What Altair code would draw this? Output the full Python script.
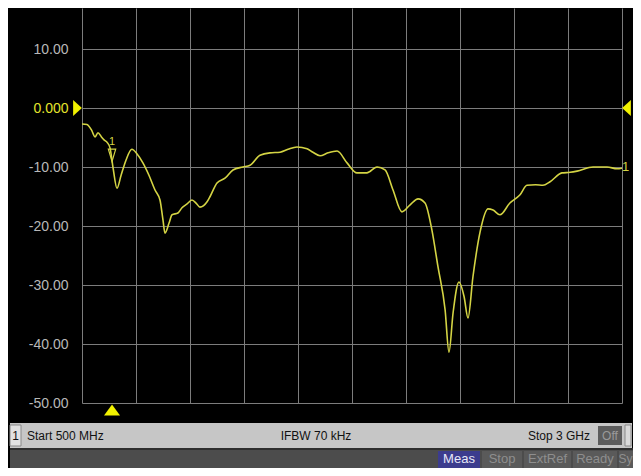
import altair as alt
import pandas as pd

# ---- data ----
freq_mhz = [500, 523, 545, 560, 574, 590, 602, 618, 630, 644, 662, 681, 704, 731, 755, 782,
            810, 838, 861, 875, 884, 903, 917, 944, 963, 985, 1009, 1030, 1046, 1079, 1093,
            1125, 1162, 1199, 1245, 1278, 1324, 1370, 1417, 1454, 1495, 1542, 1569, 1602,
            1639, 1681, 1727, 1773, 1819, 1866, 1903, 1940, 1981, 2019, 2056, 2088, 2120,
            2148, 2181, 2199, 2218, 2245, 2269, 2287, 2310, 2343, 2380, 2403, 2435, 2481,
            2528, 2560, 2600, 2634, 2667, 2722, 2760, 2792, 2866, 2931, 2977, 3000]
s11_db = [-2.7, -2.8, -3.8, -4.9, -4.2, -4.9, -5.4, -5.9, -6.8, -10.2, -13.6, -11.4, -8.8,
          -7.0, -7.8, -9.3, -11.4, -13.9, -15.6, -19.0, -21.2, -19.5, -18.1, -17.8, -16.9,
          -16.3, -15.6, -16.2, -16.8, -15.9, -15.0, -12.7, -11.9, -10.5, -10.0, -9.7, -8.0,
          -7.6, -7.5, -7.0, -6.6, -6.9, -7.5, -8.1, -7.6, -7.3, -9.3, -11.0, -11.0, -10.0,
          -10.5, -13.9, -17.6, -16.4, -15.4, -16.1, -20.7, -26.9, -34.2, -41.4, -34.7,
          -29.5, -32.0, -35.6, -28.6, -21.0, -17.1, -17.3, -18.1, -16.1, -14.7, -13.1,
          -13.0, -13.1, -12.5, -11.0, -10.9, -10.7, -10.0, -10.0, -10.3, -10.2]
y_ticks = [-50, -40, -30, -20, -10, 0, 10]
x_ticks = [500, 750, 1000, 1250, 1500, 1750, 2000, 2250, 2500, 2750, 3000]
marker_freq = 639
ref_level = 0
status_left = "Start 500 MHz"
status_mid = "IFBW 70 kHz"
status_right = "Stop 3 GHz"
buttons = ["Meas", "Stop", "ExtRef", "Ready", "Sy"]

df = pd.DataFrame({"f": freq_mhz, "db": s11_db})
one = pd.DataFrame({"a": [0]})

W, H = 540, 395
GRID = "#7c7c7c"
TRACE = "#d4d444"
YEL = "#f2f200"
NARROW = "Liberation Sans Narrow, Arial Narrow, Liberation Sans, sans-serif"

xscale = alt.Scale(domain=[500, 3000], nice=False, zero=False)
yscale = alt.Scale(domain=[-50, 16.95], nice=False, zero=False)

trace = alt.Chart(df).mark_line(color=TRACE, strokeWidth=1.6, clip=True,
                                interpolate="monotone").encode(
    x=alt.X("f:Q", scale=xscale,
            axis=alt.Axis(values=x_ticks, grid=True, labels=False, ticks=False,
                          domain=False, title=None, gridColor=GRID, gridWidth=1,
                          gridOpacity=1)),
    y=alt.Y("db:Q", scale=yscale,
            axis=alt.Axis(values=y_ticks, grid=True, ticks=False, domain=False,
                          title=None, gridColor=GRID, gridWidth=1, gridOpacity=1,
                          labelExpr="datum.value == 0 ? '0.000' : (datum.value < 0 ? '-' : '') + format(abs(datum.value), '.2f')",
                          labelColor={"condition": {"test": "datum.value == 0", "value": "#e4e42c"},
                                      "value": "#b8b8b8"},
                          labelFont="Liberation Sans", labelFontSize=14,
                          labelPadding=14)),
)

# reference-level arrows
left_arrow = alt.Chart(one).mark_point(
    shape="M-0.55,-1 L0.55,0 L-0.55,1 Z", filled=True, color=YEL, opacity=1, size=256
).encode(x=alt.value(-4.5), y=alt.Y(datum=ref_level, scale=yscale))
right_arrow = alt.Chart(one).mark_point(
    shape="M0.55,-1 L-0.55,0 L0.55,1 Z", filled=True, color=YEL, opacity=1, size=256
).encode(x=alt.value(W + 4.5), y=alt.Y(datum=ref_level, scale=yscale))
# marker position on the x axis
bottom_arrow = alt.Chart(one).mark_point(
    shape="M-1,0.7 L0,-0.7 L1,0.7 Z", filled=True, color=YEL, opacity=1, size=256
).encode(x=alt.X(datum=marker_freq, scale=xscale), y=alt.value(H + 7))
# marker on the trace
marker_sym = alt.Chart(one).mark_point(
    shape="M-0.6,-1 L0.6,-1 L0,1 Z", filled=False, color=TRACE, strokeWidth=1.2,
    opacity=1, size=150
).encode(x=alt.X(datum=marker_freq, scale=xscale), y=alt.Y(datum=-8.0, scale=yscale))
marker_lbl = alt.Chart(one).mark_text(
    text="1", color=TRACE, fontSize=11, font="Liberation Sans", baseline="middle", align="center"
).encode(x=alt.X(datum=marker_freq, scale=xscale), y=alt.Y(datum=-5.8, scale=yscale))
trace_lbl = alt.Chart(one).mark_text(
    text="1", color=TRACE, fontSize=13, font="Liberation Sans", baseline="middle",
    align="left", dx=0
).encode(x=alt.X(datum=3000, scale=xscale), y=alt.Y(datum=-10.0, scale=yscale))


def box(x1, x2, y1, y2, fill, stroke=None):
    kw = {"fill": fill}
    if stroke:
        kw["stroke"] = stroke
        kw["strokeWidth"] = 1
    return alt.Chart(one).mark_rect(**kw).encode(
        x=alt.value(x1), x2=alt.value(x2), y=alt.value(y1), y2=alt.value(y2))


def label(txt, x, y, color, size=13, align="left", font=NARROW):
    return alt.Chart(one).mark_text(
        text=txt, color=color, fontSize=size, font=font, align=align, baseline="middle"
    ).encode(x=alt.value(x), y=alt.value(y))


deco = [
    box(-72, 550, 415, 440, "#c6c6c6"),
    box(-72, 551, 440, 442, "#2e2e2e"),
    box(-72, 551, 442, 470, "#4c4c4c"),
    box(-72, -61, 417, 438, "#e2e2e2", "#8a8a8a"),
    label("1", -66.5, 428, "#111111", 12, "center"),
    label(status_left, -55, 428, "#111111", 12),
    label(status_mid, 234, 428, "#111111", 12, "center"),
    label(status_right, 508, 428, "#111111", 12, "right"),
    box(516, 540, 418, 437, "#5c5c5c"),
    label("Off", 528, 428, "#9a9a9a", 12, "center"),
    box(543, 549, 417, 438, "#dadada", "#8a8a8a"),
]
btn_x = [(356, 398), (400, 440), (442, 489), (491, 535), (537, 551)]
for i, (name, (a, b)) in enumerate(zip(buttons, btn_x)):
    if i == 0:
        deco.append(box(a, b, 443, 470, "#3c3c8e"))
        deco.append(label(name, (a + b) / 2, 451, "#e8e8f8", 13, "center"))
    elif i < 4:
        deco.append(box(a, b, 443, 470, "#5a5a5a"))
        deco.append(label(name, (a + b) / 2, 451, "#8e8e8e", 13, "center"))
    else:
        deco.append(box(a, b, 443, 470, "#5a5a5a"))
        deco.append(label(name, 550.5, 451, "#8e8e8e", 12, "right"))

chart = alt.layer(
    trace, marker_sym, marker_lbl, trace_lbl, left_arrow, right_arrow, bottom_arrow, *deco
).properties(
    width=W, height=H,
    autosize=alt.AutoSizeParams(type="none"),
    padding={"left": 74, "top": 0, "right": 11, "bottom": 65},
    background="#000000",
).configure_view(stroke=None)

chart.save("out.html", embed_options={"renderer": "svg", "actions": False})
